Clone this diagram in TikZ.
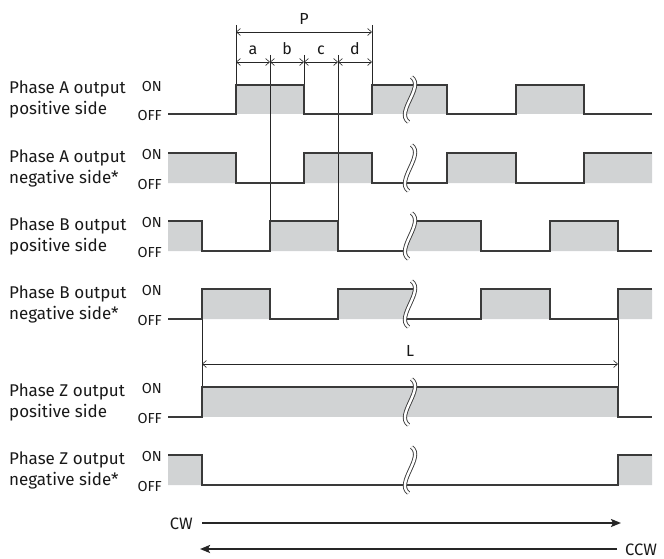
\documentclass[tikz,border=0pt]{standalone}
\usepackage{fontspec}
\setmainfont{Fira Sans}
\usetikzlibrary{arrows.meta}
\definecolor{sigc}{HTML}{3A3A3A}
\definecolor{grayf}{HTML}{D1D3D4}
\tikzset{
  sig/.style={draw=sigc, line width=1.3pt, line join=miter},
  hi/.style={fill=grayf},
  dimline/.style={draw=black!85, line width=0.6pt},
  dimarr/.style={dimline, {Straight Barb[length=4pt,width=7pt]}-{Straight Barb[length=4pt,width=7pt]}},
  brk/.style={draw=sigc, double=white, line width=0.9pt, double distance=2.4pt},
  lbl/.style={font=\fontsize{17}{21}\selectfont, inner sep=0pt, anchor=base west, text=black!90},
  lvl/.style={font=\fontsize{14.5}{16}\selectfont, inner sep=0pt, anchor=east, text=black!90},
  dimtxt/.style={font=\fontsize{16}{18}\selectfont, inner sep=0pt, text=black!90},
  dirtxt/.style={font=\fontsize{16.5}{20}\selectfont, inner sep=0pt, text=black!90},
  dirarr/.style={draw=black!85, line width=2.6pt, -{Stealth[length=10pt,width=8pt,inset=2pt]}},
}
% row labels: #1 name, #2 ON y, #3 OFF y, #4 line 1, #5 line 2
\newcommand\rowtext[5]{%
  \node[lbl] (#1t1) at (9,#2+9) {#4};
  \node[lbl] (#1t2) at (9,#2+30) {#5};
  \node[lvl] (#1on) at (162,#2+1.5) {ON};
  \node[lvl] (#1off) at (162,#3+1.5) {OFF};
}
% break curve path for a row: #1 ON y, #2 OFF y
\newcommand\brkpath[2]{(411.5,#1-8) .. controls (425,#1+2) and (395,#2-2) .. (408.5,#2+8)}
\newcommand\leftclip[2]{\clip (0,#1-8) -- \brkpath{#1}{#2} -- (0,#2+8) -- cycle;}
\newcommand\rightclip[2]{\clip (700,#1-8) -- (411.5,#1-8) .. controls (425,#1+2) and (395,#2-2) .. (408.5,#2+8) -- (700,#2+8) -- cycle;}
\begin{document}
\begin{tikzpicture}[x=1pt,y=-1pt]
\useasboundingbox (0,0) rectangle (664,559);

% ---------- labels ----------
\rowtext{ap}{85}{114}{Phase A output}{positive side}
\rowtext{an}{153}{183}{Phase A output}{negative side*}
\rowtext{bp}{221}{251}{Phase B output}{positive side}
\rowtext{bn}{289}{319}{Phase B output}{negative side*}
\rowtext{zp}{387}{417}{Phase Z output}{positive side}
\rowtext{zn}{455}{485}{Phase Z output}{negative side*}

% ---------- fills ----------
\begin{scope}\leftclip{85}{114}
  \fill[hi] (236,85) rectangle (304,114) (372,85) rectangle (420,114);
\end{scope}
\begin{scope}\rightclip{85}{114}
  \fill[hi] (400,85) rectangle (447,114) (516,85) rectangle (584,114);
\end{scope}
\begin{scope}\leftclip{153}{183}
  \fill[hi] (168,153) rectangle (236,183) (304,153) rectangle (372,183);
\end{scope}
\begin{scope}\rightclip{153}{183}
  \fill[hi] (447,153) rectangle (516,183) (584,153) rectangle (652,183);
\end{scope}
\begin{scope}\leftclip{221}{251}
  \fill[hi] (168,221) rectangle (202,251) (270,221) rectangle (338,251);
\end{scope}
\begin{scope}\rightclip{221}{251}
  \fill[hi] (400,221) rectangle (481,251) (550,221) rectangle (618,251);
\end{scope}
\begin{scope}\leftclip{289}{319}
  \fill[hi] (202,289) rectangle (270,319) (338,289) rectangle (420,319);
\end{scope}
\begin{scope}\rightclip{289}{319}
  \fill[hi] (481,289) rectangle (550,319) (618,289) rectangle (652,319);
\end{scope}
\fill[hi] (202,387) rectangle (618,417);
\fill[hi] (168,455) rectangle (202,485) (618,455) rectangle (652,485);

% ---------- dimension lines ----------
\coordinate (pL) at (236,32); \coordinate (pR) at (372,32);
\coordinate (q0) at (236,62); \coordinate (q1) at (270,62); \coordinate (q2) at (304,62);
\coordinate (q3) at (338,62); \coordinate (q4) at (372,62);
\draw[dimline] (236,25) -- (236,85);
\draw[dimline] (372,25) -- (372,85);
\draw[dimline] (270,55) -- (270,251);
\draw[dimline] (304,55) -- (304,85);
\draw[dimline] (338,55) -- (338,251);
\draw[dimarr] (pL) -- (pR);
\draw[dimarr] (q0) -- (q1);
\draw[dimarr] (q1) -- (q2);
\draw[dimarr] (q2) -- (q3);
\draw[dimarr] (q3) -- (q4);
\node[dimtxt] (Plab) at (304,19) {P};
\node[dimtxt, anchor=base] (alab) at (253,55) {a};
\node[dimtxt, anchor=base] (blab) at (287,55) {b};
\node[dimtxt, anchor=base] (clab) at (321,55) {c};
\node[dimtxt, anchor=base] (dlab) at (355,55) {d};

\coordinate (lL) at (202,364); \coordinate (lR) at (618,364);
\draw[dimline] (202,319) -- (202,387);
\draw[dimline] (618,319) -- (618,387);
\draw[dimarr] (lL) -- (lR);
\node[dimtxt] (Llab) at (410,351) {L};

% ---------- signal lines ----------
\begin{scope}\leftclip{85}{114}
  \draw[sig] (168,114) -- (236,114) -- (236,85) -- (304,85) -- (304,114) -- (372,114) -- (372,85) -- (420,85);
\end{scope}
\begin{scope}\rightclip{85}{114}
  \draw[sig] (400,85) -- (447,85) -- (447,114) -- (516,114) -- (516,85) -- (584,85) -- (584,114) -- (652,114);
\end{scope}
\begin{scope}\leftclip{153}{183}
  \draw[sig] (168,153) -- (236,153) -- (236,183) -- (304,183) -- (304,153) -- (372,153) -- (372,183) -- (420,183);
\end{scope}
\begin{scope}\rightclip{153}{183}
  \draw[sig] (400,183) -- (447,183) -- (447,153) -- (516,153) -- (516,183) -- (584,183) -- (584,153) -- (652,153);
\end{scope}
\begin{scope}\leftclip{221}{251}
  \draw[sig] (168,221) -- (202,221) -- (202,251) -- (270,251) -- (270,221) -- (338,221) -- (338,251) -- (420,251);
\end{scope}
\begin{scope}\rightclip{221}{251}
  \draw[sig] (400,221) -- (481,221) -- (481,251) -- (550,251) -- (550,221) -- (618,221) -- (618,251) -- (652,251);
\end{scope}
\begin{scope}\leftclip{289}{319}
  \draw[sig] (168,319) -- (202,319) -- (202,289) -- (270,289) -- (270,319) -- (338,319) -- (338,289) -- (420,289);
\end{scope}
\begin{scope}\rightclip{289}{319}
  \draw[sig] (400,319) -- (481,319) -- (481,289) -- (550,289) -- (550,319) -- (618,319) -- (618,289) -- (652,289);
\end{scope}
\draw[sig] (168,417) -- (202,417) -- (202,387) -- (618,387) -- (618,417) -- (652,417);
\draw[sig] (168,455) -- (202,455) -- (202,485) -- (618,485) -- (618,455) -- (652,455);

% ---------- break marks ----------
\draw[brk] \brkpath{85}{114};
\draw[brk] \brkpath{153}{183};
\draw[brk] \brkpath{221}{251};
\draw[brk] \brkpath{289}{319};
\draw[brk] \brkpath{387}{417};
\draw[brk] \brkpath{455}{485};

% ---------- direction arrows ----------
\node[dirtxt, anchor=east] (cw) at (193,524) {CW};
\coordinate (cwE) at (621,523);
\draw[dirarr] (cw.east) ++(9,-1) coordinate (cwS) -- (cwE);
\node[dirtxt, anchor=west] (ccw) at (625,550) {CCW};
\coordinate (ccwE) at (200,549);
\draw[dirarr] (ccw.west) ++(-8,-1) coordinate (ccwS) -- (ccwE);
\end{tikzpicture}
\end{document}
